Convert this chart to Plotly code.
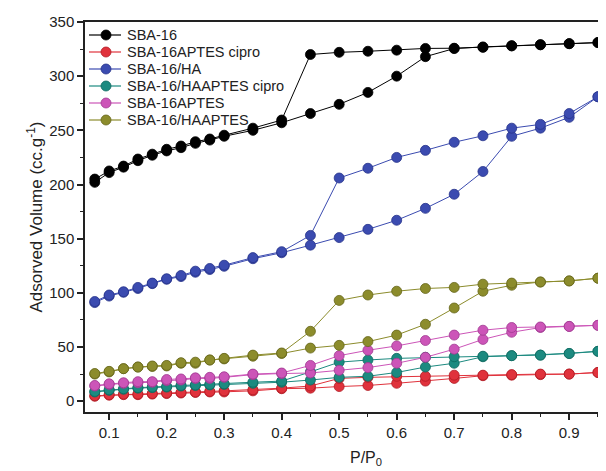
import plotly.graph_objects as go

P = [0.075, 0.1, 0.125, 0.15, 0.175, 0.2, 0.225, 0.25, 0.275, 0.3, 0.35, 0.4,
     0.45, 0.5, 0.55, 0.6, 0.65, 0.7, 0.75, 0.8, 0.85, 0.9, 0.95]

sba16_ads = [202, 211, 216, 222, 227, 231, 234, 238, 241, 244.5, 250, 257,
             265.5, 274, 285, 300, 318, 325.5, 327, 328, 329, 330, 331]
sba16_des = [205, 212.5, 217, 223.5, 228, 232.5, 235.5, 239.5, 242, 245.5, 252, 259.5,
             320, 322, 323, 324, 325.6, 325.8, 326.6, 328, 329, 330, 331]

aptes_cipro_ads = [4.5, 5.5, 6, 6, 6.5, 7, 7.5, 8, 8.5, 8.5, 9.5, 11.5,
                   12, 13.5, 14.5, 16.5, 18.5, 21, 23.5, 24, 24.5, 25, 26.5]
aptes_cipro_des = [5, 6, 6.5, 6.5, 7, 7.5, 8, 8.5, 9, 9.5, 10.5, 12,
                   14, 21, 22, 23, 23, 24, 24, 24.5, 25, 25, 26.5]

ha_ads = [91, 97, 100.5, 104, 108.5, 112.5, 115, 119, 121.5, 124.5, 131.5, 137,
          144, 151, 158.6, 167, 178, 191, 212, 244.5, 252, 262, 281]
ha_des = [92, 98, 101, 105, 109, 113, 116, 120, 122.5, 125.5, 132.5, 138,
          153, 206, 215, 225, 231.5, 239, 245, 252, 255.5, 265.5, 281]

haaptes_cipro_ads = [8.5, 10, 11, 12, 12.5, 13, 14, 14.5, 15, 15.5, 16.5, 17.5,
                     19.5, 22, 23, 26.5, 31.5, 35, 41, 42, 42.5, 44, 46]
haaptes_cipro_des = [9, 10.5, 11.5, 12.5, 13, 13.5, 14.5, 15, 15.5, 16, 17.5, 18.5,
                     27, 36, 38, 39.5, 40.5, 41, 41.5, 42, 42.5, 44, 46]

aptes_ads = [14, 15.5, 16.5, 17, 17.5, 19, 19.5, 21, 21, 22, 24.5, 25.5,
             26, 28.5, 31, 35, 40.5, 48, 57, 63.6, 68, 69, 70]
aptes_des = [14.5, 16, 17, 18, 18, 20, 20.5, 21.5, 22, 22.5, 25, 26,
             33, 42, 47, 51, 56, 61, 65.5, 68, 68.5, 69, 70]

haaptes_ads = [25, 27, 30, 31.5, 32, 32.5, 35, 35, 38, 39, 41.5, 44,
               49, 51.5, 55, 61, 71, 86, 101.5, 107, 110, 111, 113.5]
haaptes_des = [25.5, 27.5, 30, 31.5, 32.5, 33, 35.5, 36, 38, 39.5, 42.5, 44.5,
               64.5, 93, 98, 101.5, 104, 105, 108, 109, 110, 111, 113.5]

names = ["SBA-16", "SBA-16APTES cipro", "SBA-16/HA", "SBA-16/HAAPTES cipro",
         "SBA-16APTES", "SBA-16/HAAPTES"]
ads = [sba16_ads, aptes_cipro_ads, ha_ads, haaptes_cipro_ads, aptes_ads, haaptes_ads]
des = [sba16_des, aptes_cipro_des, ha_des, haaptes_cipro_des, aptes_des, haaptes_des]
colors = ["#000000", "#e0323c", "#3b4bb0", "#1c8a80", "#cc55b8", "#8c8c2c"]
edges = ["#000000", "#b01c24", "#27338a", "#0f6a60", "#a03a90", "#66661a"]

fig = go.Figure()
for n, a, d, c, e in zip(names, ads, des, colors, edges):
    fig.add_trace(go.Scatter(
        x=P + P[::-1], y=a + d[::-1], name=n, mode="lines+markers",
        line=dict(color=c, width=1),
        marker=dict(color=c, size=10, line=dict(color=e, width=0.8)),
        cliponaxis=False, showlegend=False,
    ))

# legend drawn in paper coordinates (tight row spacing as in the reference)
W, H = 598, 463
L, R, T, B = 77, 0, 14, 59
pw, ph = W - L - R, H - T - B
shapes, annots = [], []
for i, (n, c, e) in enumerate(zip(names, colors, edges)):
    fy = 27 + 17 * i
    py = (H - B - fy) / ph
    shapes.append(dict(type="line", xref="paper", yref="paper",
                       x0=(81 - L) / pw, x1=(113 - L) / pw, y0=py, y1=py,
                       line=dict(color=c, width=1.2)))
    shapes.append(dict(type="circle", xref="paper", yref="paper",
                       xsizemode="pixel", ysizemode="pixel",
                       xanchor=(98 - L) / pw, yanchor=py,
                       x0=-5, x1=5, y0=-5, y1=5,
                       fillcolor=c, line=dict(color=e, width=0.8)))
    annots.append(dict(text=n, x=(117 - L) / pw, y=py, xref="paper", yref="paper",
                       xanchor="left", yanchor="middle", showarrow=False,
                       font=dict(size=14.5, color="#222")))

annots.append(dict(text="P/P<sub>0</sub>", x=(358 - L) / pw, y=(H - B - 439) / ph,
                   xref="paper", yref="paper", xanchor="center", yanchor="top",
                   showarrow=False, font=dict(size=16, color="#222")))

font = "Liberation Sans, Arial, sans-serif"
fig.update_layout(
    width=W, height=H,
    margin=dict(l=L, r=R, t=T, b=B),
    paper_bgcolor="white", plot_bgcolor="white",
    font=dict(family=font, size=15, color="#222"),
    showlegend=False,
    xaxis=dict(range=[0.058, 0.964], dtick=0.1, tick0=0.1, showgrid=False, zeroline=False,
               showline=True, linecolor="#222", linewidth=1.5, mirror=True,
               ticks="outside", ticklen=6, tickwidth=1.5, tickcolor="#222",
               minor=dict(dtick=0.05, tick0=0.05, ticks="outside", ticklen=3,
                          tickwidth=1.2, tickcolor="#222"),
               tickfont=dict(size=15)),
    yaxis=dict(range=[-10, 350], dtick=50, tick0=0, showgrid=False, zeroline=False,
               showline=True, linecolor="#222", linewidth=1.5,
               ticks="outside", ticklen=6, tickwidth=1.5, tickcolor="#222",
               minor=dict(dtick=25, tick0=0, ticks="outside", ticklen=3,
                          tickwidth=1.2, tickcolor="#222"),
               tickfont=dict(size=15),
               title=dict(text="Adsorved Volume (cc.g<sup>-1</sup>)",
                          font=dict(size=17), standoff=2)),
    shapes=shapes,
    annotations=annots,
)

fig.write_html("out.html")
